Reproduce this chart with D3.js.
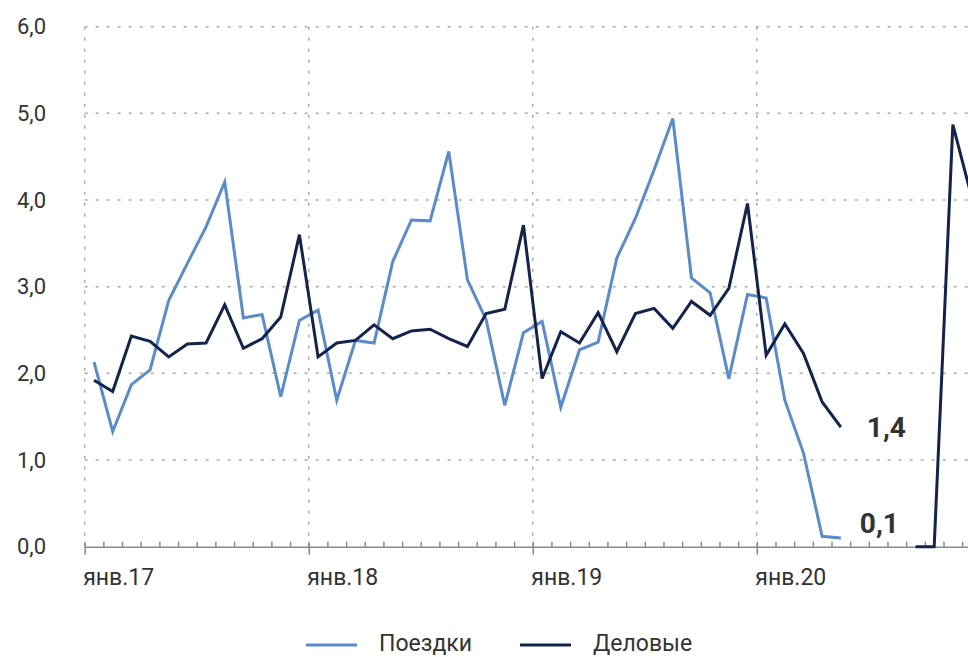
<!DOCTYPE html>
<html>
<head>
<meta charset="utf-8">
<script src="https://cdn.jsdelivr.net/npm/d3@7"></script>
<style>
  body { margin: 0; background: #fff; }
  svg { display: block; }
  text { font-family: Roboto, "Noto Sans", sans-serif; fill: #333; }
</style>
</head>
<body>
<div id="chart"></div>
<script>
// monthly values, starting Jan 2017; null = no data
var trips = [2.13, 1.33, 1.87, 2.04, 2.84, 3.27, 3.69, 4.21, 2.64, 2.68, 1.73, 2.61,
             2.73, 1.69, 2.38, 2.35, 3.29, 3.77, 3.76, 4.56, 3.08, 2.62, 1.63, 2.47,
             2.60, 1.61, 2.27, 2.36, 3.33, 3.79, 4.35, 4.94, 3.10, 2.93, 1.94, 2.91,
             2.87, 1.69, 1.08, 0.12, 0.10];
var business = [1.92, 1.79, 2.43, 2.37, 2.19, 2.34, 2.35, 2.79, 2.29, 2.40, 2.65, 3.60,
                2.19, 2.35, 2.38, 2.56, 2.40, 2.49, 2.51, 2.40, 2.31, 2.69, 2.74, 3.71,
                1.94, 2.48, 2.35, 2.70, 2.25, 2.69, 2.75, 2.52, 2.83, 2.67, 2.98, 3.96,
                2.21, 2.57, 2.23, 1.67, 1.38, null, null, null, 0, 0, 4.87, 4.04];
var yearLabels = ["янв.17", "янв.18", "янв.19", "янв.20"];
var yTicks = [0, 1, 2, 3, 4, 5, 6];
var seriesNames = ["Поездки", "Деловые"];
var lastLabels = ["0,1", "1,4"];

var W = 968, H = 657;
var colors = ["#5b8bca", "#13234b"];

var svg = d3.select("#chart").append("svg").attr("width", W).attr("height", H);

var x = d3.scaleLinear().domain([0, 48]).range([84.7, 84.7 + 48 * 18.67]);
var y = d3.scaleLinear().domain([0, 6]).range([546.7, 26.7]);

// grid
var grid = svg.append("g").attr("stroke", "#aaa").attr("stroke-width", 1.5)
  .attr("stroke-dasharray", "3,8");
grid.selectAll("line.h").data(yTicks.slice(1)).enter().append("line")
  .attr("x1", x(0)).attr("x2", W).attr("y1", function (d) { return y(d); })
  .attr("y2", function (d) { return y(d); });
grid.selectAll("line.v").data([0, 12, 24, 36]).enter().append("line")
  .attr("x1", function (d) { return x(d); }).attr("x2", function (d) { return x(d); })
  .attr("y1", y(6)).attr("y2", y(0));

// y labels
var yAxis = d3.axisLeft(y).tickValues(yTicks).tickSize(0).tickPadding(0)
  .tickFormat(function (d) { return d3.format(".1f")(d).replace(".", ","); });
var yg = svg.append("g").attr("transform", "translate(46,0)").call(yAxis);
yg.select(".domain").remove();
yg.selectAll("text").attr("font-size", 22).attr("font-family", "Roboto").attr("fill", "#333");

// x axis: minor ticks upwards, majors down with labels
var months = d3.range(0, 48);
var minor = d3.axisBottom(x).tickValues(months).tickSizeInner(-5).tickSizeOuter(0)
  .tickFormat("");
var mg = svg.append("g").attr("transform", "translate(0," + y(0) + ")").call(minor);
mg.selectAll("line").attr("stroke", "#888").attr("stroke-width", 1.5);
mg.select(".domain").attr("stroke", "#888").attr("stroke-width", 1.5);

var major = d3.axisBottom(x).tickValues([0, 12, 24, 36]).tickSizeInner(8).tickSizeOuter(0)
  .tickFormat(function (d, i) { return yearLabels[i]; });
var jg = svg.append("g").attr("transform", "translate(0," + y(0) + ")").call(major);
jg.select(".domain").remove();
jg.selectAll("line").attr("stroke", "#888").attr("stroke-width", 1.5);
jg.selectAll("text").attr("text-anchor", "start").attr("x", -2).attr("y", 38).attr("dy", 0)
  .attr("font-size", 23).attr("font-family", "Roboto").attr("fill", "#333");

// lines
var line = d3.line()
  .defined(function (d) { return d != null; })
  .x(function (d, i) { return x(i + 0.5); })
  .y(function (d) { return y(d); });

[trips, business].forEach(function (s, k) {
  svg.append("path").datum(s).attr("d", line).attr("fill", "none")
    .attr("stroke", colors[k]).attr("stroke-width", 3).attr("stroke-linejoin", "miter");
});

// end labels
svg.append("text").attr("x", x(40.5) + 19).attr("y", y(trips[40]) - 5)
  .attr("font-size", 28).attr("font-weight", 700).attr("fill", "#222").text(lastLabels[0]);
svg.append("text").attr("x", x(40.5) + 26).attr("y", y(business[40]) + 10)
  .attr("font-size", 28).attr("font-weight", 700).attr("fill", "#222").text(lastLabels[1]);

// legend
var legX = [306, 520];
seriesNames.forEach(function (n, k) {
  var g = svg.append("g").attr("transform", "translate(" + legX[k] + ",645)");
  g.append("line").attr("x1", 0).attr("x2", 51).attr("stroke", colors[k]).attr("stroke-width", 3);
  g.append("text").attr("x", 73).attr("y", 6).attr("font-size", 23).attr("fill", "#333").text(n);
});
</script>
</body>
</html>
